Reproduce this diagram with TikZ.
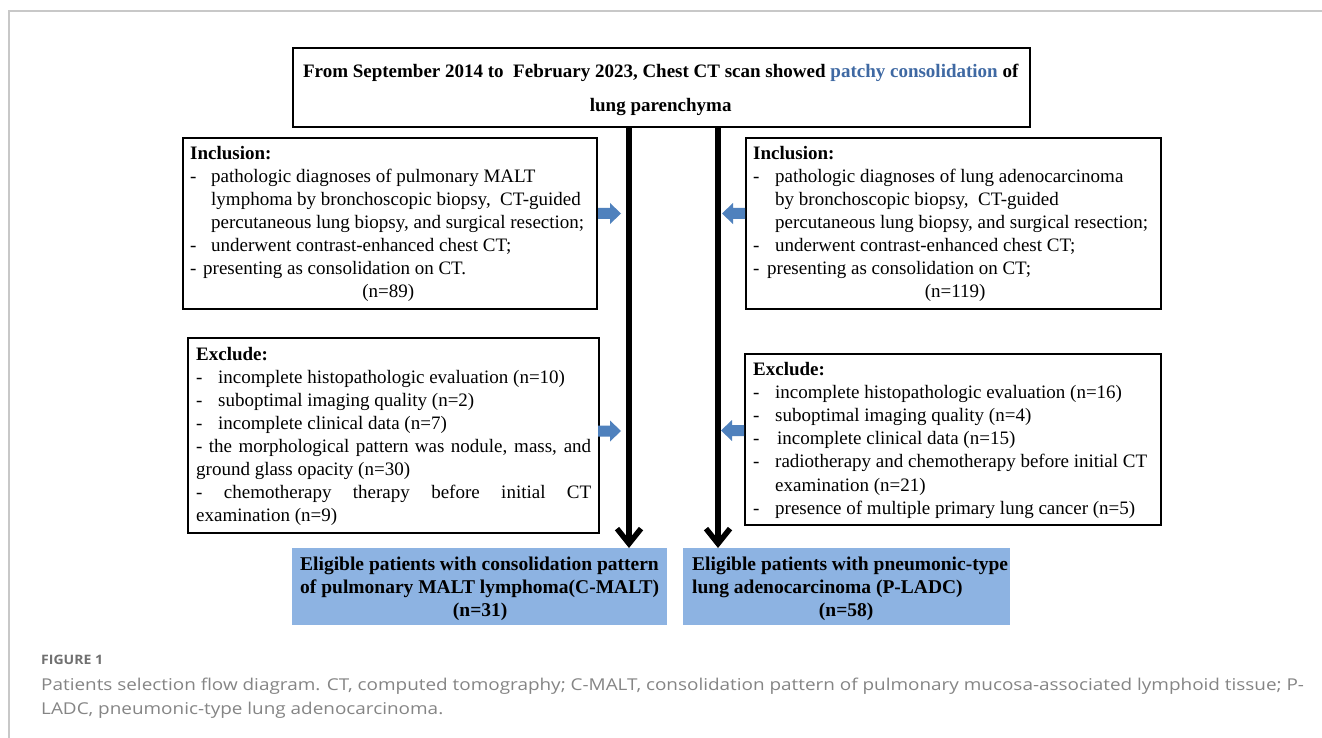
\documentclass[tikz,border=0pt]{standalone}
\usepackage{fontspec}
\setmainfont{Liberation Serif}
\newfontfamily\capfont{Open Sans}
\usetikzlibrary{arrows.meta}
\definecolor{arrowblue}{HTML}{4F81BD}
\definecolor{eligblue}{HTML}{8DB3E2}
\definecolor{hlblue}{HTML}{3F69A3}
\definecolor{capgray}{HTML}{858585}
\definecolor{labgray}{HTML}{707070}
\definecolor{framegray}{HTML}{C8C8C8}
\newcommand\txtlines[2][23pt]{\vtop{\baselineskip=#1\lineskiplimit=-30pt\lineskip=0pt #2}}
\newcommand\dashitem[2][21pt]{\hbox{\makebox[#1][l]{-}#2}}
\newcommand\contline[2][21pt]{\hbox{\hspace*{#1}#2}}
\newcommand\justline[2]{\hbox to #1{\spaceskip=0.25em plus 1fil\relax #2}}
\newcommand\cenline[2]{\hbox to #1{\hfil #2\hfil}}
\newcommand\blockarr[3]{\fill[arrowblue] (#1,#2-5.5) -- ++(12*#3,0) -- ++(0,-5) -- ++(11*#3,10.5) -- ++(-11*#3,10.5) -- ++(0,-5) -- ++(-12*#3,0) -- cycle;}
\begin{document}
\begin{tikzpicture}[x=1pt,y=-1pt,
  box/.style={draw=black, line width=1.8pt, inner sep=0pt, anchor=north west},
  eligbox/.style={fill=eligblue, inner sep=0pt, anchor=north west},
  txt/.style={inner sep=0pt, anchor=base west, font=\fontsize{19}{23}\selectfont},
  btxt/.style={inner sep=0pt, anchor=base west, font=\fontsize{19.5}{23}\selectfont\bfseries},
  flow/.style={line width=5.5pt, -{Straight Barb[length=15pt,width=24pt]}}]
\useasboundingbox (0,0) rectangle (1322,738);
\fill[white] (0,0) rectangle (1322,738);
\draw[framegray, line width=1.5pt] (9,738) -- (9,11) -- (1322,11);

% boxes
\node[box, line width=2.2pt, minimum width=737pt, minimum height=79pt] (top) at (292,47) {};
\node[box, minimum width=414pt, minimum height=171pt] (incL) at (182,137) {};
\node[box, minimum width=415pt, minimum height=171pt] (incR) at (745,137) {};
\node[box, minimum width=411pt, minimum height=195pt] (excL) at (187,337) {};
\node[box, minimum width=416pt, minimum height=171pt] (excR) at (744,353) {};
\node[eligbox, minimum width=375pt, minimum height=77pt] (eligL) at (292,548) {};
\node[eligbox, minimum width=327pt, minimum height=77pt] (eligR) at (683,548) {};

% texts
\node[inner sep=0pt, anchor=base west, font=\fontsize{19}{34}\selectfont\bfseries] (topt) at (300.5,77.5) {\txtlines[34pt]{%
\cenline{720pt}{From September 2014 to\ \ February 2023, Chest CT scan showed {\color{hlblue}patchy consolidation} of}
\cenline{720pt}{lung parenchyma}}};

\node[txt] (incLt) at (190,160) {\txtlines{%
\hbox{\bfseries Inclusion:}
\dashitem{pathologic diagnoses of pulmonary MALT}
\contline{lymphoma by bronchoscopic biopsy,\ \ CT-guided}
\contline{percutaneous lung biopsy, and surgical resection;}
\dashitem{underwent contrast-enhanced chest CT;}
\dashitem[13pt]{presenting as consolidation on CT.}
\cenline{396pt}{(n=89)}}};

\node[txt] (incRt) at (753,160) {\txtlines{%
\hbox{\bfseries Inclusion:}
\dashitem[22pt]{pathologic diagnoses of lung adenocarcinoma}
\contline[22pt]{by bronchoscopic biopsy,\ \ CT-guided}
\contline[22pt]{percutaneous lung biopsy, and surgical resection;}
\dashitem[22pt]{underwent contrast-enhanced chest CT;}
\dashitem[14pt]{presenting as consolidation on CT;}
\cenline{404pt}{(n=119)}}};

\node[txt] (excLt) at (196,360) {\txtlines[23.1pt]{%
\hbox{\bfseries Exclude:}
\dashitem[22pt]{incomplete histopathologic evaluation (n=10)}
\dashitem[22pt]{suboptimal imaging quality (n=2)}
\dashitem[22pt]{incomplete clinical data (n=7)}
\justline{395pt}{- the morphological pattern was nodule, mass, and}
\hbox{ground glass opacity (n=30)}
\justline{395pt}{- chemotherapy therapy before initial CT}
\hbox{examination (n=9)}}};

\node[txt] (excRt) at (753,375) {\txtlines[23.2pt]{%
\hbox{\bfseries Exclude:}
\dashitem[22pt]{incomplete histopathologic evaluation (n=16)}
\dashitem[22pt]{suboptimal imaging quality (n=4)}
\dashitem[24pt]{incomplete clinical data (n=15)}
\dashitem[22pt]{radiotherapy and chemotherapy before initial CT}
\contline[22pt]{examination (n=21)}
\dashitem[22pt]{presence of multiple primary lung cancer (n=5)}}};

\node[btxt] (eligLt) at (300,570) {\txtlines{%
\hbox{Eligible patients with consolidation pattern}
\hbox{of pulmonary MALT lymphoma(C-MALT)}
\cenline{360pt}{(n=31)}}};

\node[btxt] (eligRt) at (692,570) {\txtlines{%
\hbox{Eligible patients with pneumonic-type}
\hbox{lung adenocarcinoma (P-LADC)}
\cenline{308pt}{(n=58)}}};

% main flow arrows
\coordinate (aL) at (629,0);
\coordinate (aR) at (718,0);
\draw[flow] (top.south -| aL) -- (eligL.north -| aL);
\draw[flow] (top.south -| aR) -- (eligR.north -| aR);

% block arrows
\blockarr{598}{213.5}{1}
\blockarr{598}{431}{1}
\blockarr{745}{213.5}{-1}
\blockarr{744}{430.5}{-1}

% caption
\node[inner sep=0pt, anchor=base west, text=labgray, font=\capfont\bfseries\fontsize{13}{16}\selectfont] (figlab) at (41,664) {\scalebox{1.08}[1]{FIGURE 1}};
\node[inner sep=0pt, anchor=base west, text=capgray, font=\capfont\fontsize{16.3}{24}\selectfont] (cap) at (41,690) {\scalebox{1.16}[1]{\txtlines[24pt]{%
\hbox{Patients selection flow diagram. CT, computed tomography; C-MALT, consolidation pattern of pulmonary mucosa-associated lymphoid tissue; P-}
\hbox{LADC, pneumonic-type lung adenocarcinoma.}}}};
\end{tikzpicture}
\end{document}
